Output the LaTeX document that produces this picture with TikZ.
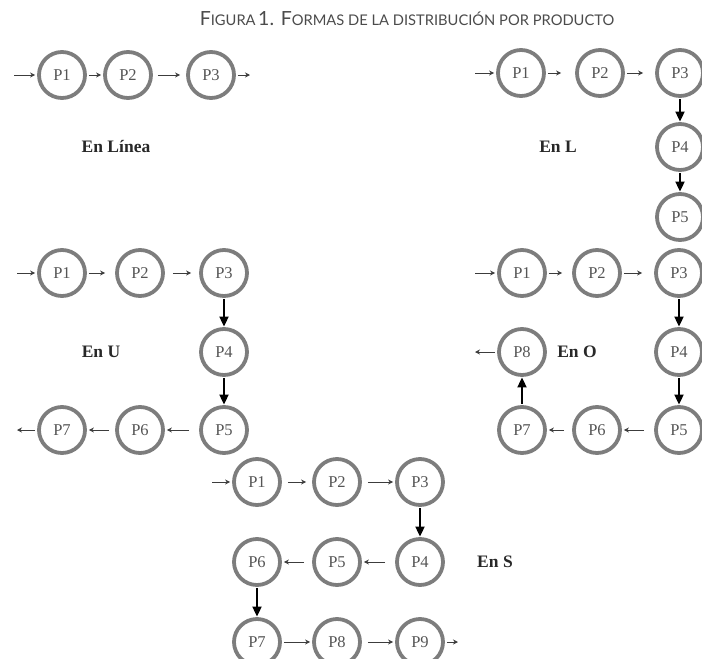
\documentclass[tikz,border=0pt]{standalone}
\usepackage{fontspec}
\setmainfont{Liberation Serif}
\newfontfamily\titlefont{Lato}
\usetikzlibrary{arrows.meta}
\definecolor{circgray}{RGB}{125,125,125}
\definecolor{txtgray}{RGB}{85,85,85}
\definecolor{labgray}{RGB}{40,40,40}
\definecolor{arrgray}{RGB}{60,60,60}
\definecolor{titgray}{RGB}{75,75,75}
\newcommand\mysc[1]{{\fontsize{14.7}{16}\selectfont #1}}
\newcommand\mybig[1]{{\fontsize{19.5}{20}\selectfont #1}}
\begin{document}
\begin{tikzpicture}[x=1pt,y=-1pt,
  st/.style={circle, draw=circgray, line width=3.8pt, minimum size=46pt, inner sep=0pt,
    font=\fontsize{16.5}{16.5}\selectfont, text=txtgray},
  ha/.style={-{Stealth[length=5pt,width=5pt]}, line width=1pt, draw=arrgray, shorten <=2pt, shorten >=2pt},
  va/.style={-{Triangle[length=10pt,width=9pt]}, line width=1.8pt, draw=black, shorten <=1.5pt, shorten >=0.5pt},
  lab/.style={font=\bfseries\fontsize{17.5}{17.5}\selectfont, text=labgray}]
\useasboundingbox (0,0) rectangle (702,659);
% title
\node[font=\titlefont, text=titgray] (title) at (407,19)
  {\mybig{F}\mysc{IGURA} \mybig{1. F}\mysc{ORMAS DE LA DISTRIBUCIÓN POR PRODUCTO}};
% En Linea
\coordinate (Lin) at (12,75);
\node[st] (L1) at (62,75) {P1};
\node[st] (L2) at (128,75) {P2};
\node[st] (L3) at (211,75) {P3};
\coordinate (Lout) at (252,75);
\node[lab] (Llab) at (116,147) {En Línea};
\draw[ha] (Lin) -- (L1);
\draw[ha] (L1) -- (L2);
\draw[ha, shorten <=5pt, shorten >=6pt] (L2) -- (L3);
\draw[ha] (L3) -- (Lout);
% En L
\coordinate (Min) at (473,73);
\node[st] (M1) at (521,73) {P1};
\node[st] (M2) at (600,73) {P2};
\node[st] (M3) at (680,73) {P3};
\node[st] (M4) at (680,147) {P4};
\node[st] (M5) at (680,217) {P5};
\node[lab] (Mlab) at (558,147) {En L};
\draw[ha] (Min) -- (M1);
\draw[ha, shorten >=14pt] (M1) -- (M2);
\draw[ha, shorten >=12pt] (M2) -- (M3);
\draw[va] (M3) -- (M4);
\draw[va] (M4) -- (M5);
% En U
\coordinate (Uin) at (15,273);
\node[st] (U1) at (62,273) {P1};
\node[st] (U2) at (140,273) {P2};
\node[st] (U3) at (224,273) {P3};
\node[st] (U4) at (224,352) {P4};
\node[st] (U5) at (224,430) {P5};
\node[st] (U6) at (140,430) {P6};
\node[st] (U7) at (62,430) {P7};
\coordinate (Uout) at (15,430);
\node[lab] (Ulab) at (101,352) {En U};
\draw[ha] (Uin) -- (U1);
\draw[ha, shorten >=10pt] (U1) -- (U2);
\draw[ha, shorten <=8pt, shorten >=8pt] (U2) -- (U3);
\draw[va] (U3) -- (U4);
\draw[va] (U4) -- (U5);
\draw[ha, shorten <=10pt] (U5) -- (U6);
\draw[ha, shorten <=6pt] (U6) -- (U7);
\draw[ha] (U7) -- (Uout);
% En O
\coordinate (Oin) at (473,273);
\node[st] (O1) at (522,273) {P1};
\node[st] (O2) at (597,273) {P2};
\node[st] (O3) at (679,273) {P3};
\node[st] (O4) at (679,352) {P4};
\node[st] (O5) at (679,430) {P5};
\node[st] (O6) at (597,430) {P6};
\node[st] (O7) at (522,430) {P7};
\node[st] (O8) at (522,352) {P8};
\coordinate (Oout) at (473,352);
\node[lab] (Olab) at (577,352) {En O};
\draw[ha] (Oin) -- (O1);
\draw[ha, shorten >=10pt] (O1) -- (O2);
\draw[ha, shorten >=12pt] (O2) -- (O3);
\draw[va] (O3) -- (O4);
\draw[va] (O4) -- (O5);
\draw[ha, shorten <=10pt] (O5) -- (O6);
\draw[ha, shorten <=8pt] (O6) -- (O7);
\draw[va] (O7) -- (O8);
\draw[ha] (O8) -- (Oout);
% En S
\coordinate (Sin) at (210,482);
\node[st] (S1) at (257,482) {P1};
\node[st] (S2) at (337,482) {P2};
\node[st] (S3) at (420,482) {P3};
\node[st] (S4) at (420,562) {P4};
\node[st] (S5) at (337,562) {P5};
\node[st] (S6) at (257,562) {P6};
\node[st] (S7) at (257,642) {P7};
\node[st] (S8) at (337,642) {P8};
\node[st] (S9) at (420,642) {P9};
\coordinate (Sout) at (460,642);
\node[lab] (Slab) at (495,562) {En S};
\draw[ha] (Sin) -- (S1);
\draw[ha, shorten <=6pt, shorten >=6pt] (S1) -- (S2);
\draw[ha, shorten <=6pt] (S2) -- (S3);
\draw[va] (S3) -- (S4);
\draw[ha, shorten <=10pt] (S4) -- (S5);
\draw[ha, shorten <=8pt] (S5) -- (S6);
\draw[va] (S6) -- (S7);
\draw[ha] (S7) -- (S8);
\draw[ha, shorten <=6pt] (S8) -- (S9);
\draw[ha] (S9) -- (Sout);
\end{tikzpicture}
\end{document}
